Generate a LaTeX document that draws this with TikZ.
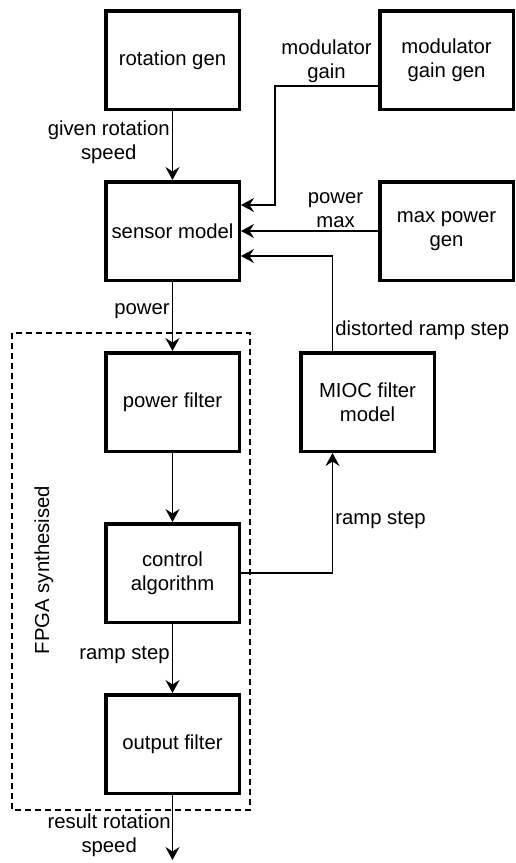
\documentclass[tikz,border=0pt]{standalone}
\usepackage{fontspec}
\setmainfont{Liberation Sans}
\usepackage{tikz}
\usetikzlibrary{arrows.meta,positioning,calc}

\begin{document}
\begin{tikzpicture}[
    x=1pt, y=1pt,
    node distance=69pt and 137pt,
    font=\fontsize{20.3}{24.5}\selectfont,
    block/.style={rectangle, draw, line width=3.5pt, minimum width=133.5pt, minimum height=98.5pt, align=center, inner sep=2pt},
    flow/.style={-{Stealth[length=13pt, width=14pt, inset=4.5pt]}, line width=1.7pt},
    lbl/.style={align=center, inner sep=2pt},
    region/.style={draw, line width=1.5pt, dash pattern=on 6pt off 4pt}
]
    \useasboundingbox (0,0) rectangle (516,-863);

    % Generators and sensor
    \node[block] (rotgen) at (172.5,-60) {rotation gen};
    \node[block, right=of rotgen] (modgain) {modulator\\gain gen};
    \node[block, below=of rotgen] (sensor) {sensor model};
    \node[block, right=of sensor] (maxpower) {max power\\gen};

    % FPGA chain
    \node[block, below=of sensor] (pfilter) {power filter};
    \node[block, below=of pfilter] (ctrl) {control\\algorithm};
    \node[block, below=of ctrl] (ofilter) {output filter};
    \node[block, right=58pt of pfilter] (mioc) {MIOC filter\\model};

    % FPGA region
    \draw[region] ($(pfilter.north west)+(-92pt,18pt)$) rectangle ($(ofilter.south east)+(9pt,-15pt)$);
    \node[rotate=90] (fpga) at ($(ctrl.west)+(-60pt,3pt)$) {FPGA synthesised};

    % Signals
    \draw[flow] (rotgen) -- node[lbl, left, pos=0.45] {given rotation\\speed} (sensor);
    \draw[flow] ($(modgain.west)+(0,-26pt)$) -| node[lbl, above, pos=0.25] {modulator\\gain} ($(sensor.east)+(34pt,26pt)$) -- ($(sensor.east)+(0,26pt)$);
    \draw[flow] (maxpower) -- node[lbl, above, pos=0.31] {power\\max} (sensor);
    \draw[flow] ($(mioc.north)+(-35pt,0)$) |- node[lbl, right, pos=0.11] {distorted ramp step} ($(sensor.east)+(0,-25pt)$);
    \draw[flow] (sensor) -- node[lbl, left, pos=0.42] {power} (pfilter);
    \draw[flow] (pfilter) -- (ctrl);
    \draw[flow] (ctrl.east) -| node[lbl, right, pos=0.72] {ramp step} ($(mioc.south)+(-35pt,0)$);
    \draw[flow] (ctrl) -- node[lbl, left, pos=0.45] {ramp step} (ofilter);
    \coordinate (result) at ($(ofilter.south)+(0,-65pt)$);
    \draw[flow] (ofilter) -- node[lbl, left, pos=0.62, inner sep=1pt] {result rotation\\speed} (result);
\end{tikzpicture}
\end{document}
